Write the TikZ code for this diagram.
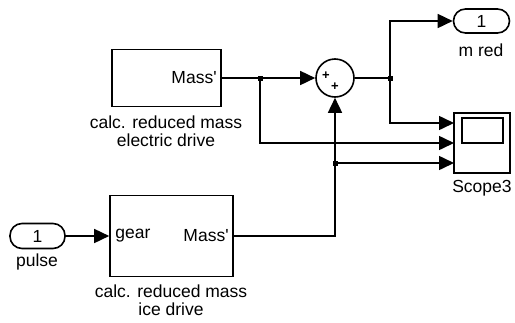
\documentclass[tikz,border=0pt]{standalone}
\usepackage{fontspec}
\setmainfont{Liberation Sans}
\usetikzlibrary{arrows.meta}

\tikzset{
  blk/.style={draw, line width=1.6pt, inner sep=0pt},
  port/.style={draw, line width=1.6pt, rounded corners=12pt, minimum width=55pt, minimum height=25pt, inner sep=0pt},
  sig/.style={line width=1.6pt, -{Triangle[length=15pt,width=14pt]}},
  wire/.style={line width=1.6pt},
  jdot/.style={fill, minimum size=5pt, inner sep=0pt},
  every node/.style={font=\fontsize{17.5}{18}\selectfont}
}

\begin{document}
\begin{tikzpicture}[x=1pt, y=-1pt]
      \useasboundingbox (0,0) rectangle (515,322);
      % Blocks
      \node[blk, minimum width=109pt, minimum height=57pt] (elec) at (166.5,78) {};
      \node[anchor=east, inner sep=0pt] (elecm) at ([xshift=-5pt]elec.east) {Mass\textquotesingle};
      \node[align=center, inner sep=0pt] (eleclbl) at (166,131) {calc. reduced mass\\electric drive};
      \node[blk, minimum width=123pt, minimum height=81pt] (ice) at (171.5,236) {};
      \node[anchor=west, inner sep=0pt] (iceg) at ([xshift=6pt]ice.west) {gear};
      \node[anchor=east, inner sep=0pt] (icem) at ([xshift=-5pt]ice.east) {Mass\textquotesingle};
      \node[align=center, inner sep=0pt] (icelbl) at (171,300) {calc. reduced mass\\ice drive};
      % Ports
      \node[port] (pulse) at (37.5,236) {1};
      \node[inner sep=0pt] (pulselbl) at (37,262) {pulse};
      \node[port, minimum width=56pt, minimum height=24pt] (out) at (481.5,21) {1};
      \node[inner sep=0pt] (outlbl) at (481,50) {m red};
      % Sum
      \node[circle, draw, line width=1.6pt, minimum size=38pt, inner sep=0pt] (sum) at (335,78) {};
      \node[font=\fontsize{13}{13}\selectfont\bfseries, inner sep=0pt] (p1) at (326,76) {+};
      \node[font=\fontsize{13}{13}\selectfont\bfseries, inner sep=0pt] (p2) at (335,87) {+};
      % Scope
      \node[blk, minimum width=56pt, minimum height=60pt] (scope) at (482,143) {};
      \node[blk, minimum width=41pt, minimum height=25pt] (screen) at (482.5,130.5) {};
      \node[inner sep=0pt] (scopelbl) at (482,188) {Scope3};
      \coordinate (s1) at (454,123);
      \coordinate (s2) at (454,143);
      \coordinate (s3) at (454,163);
      % Junctions
      \node[jdot] (j1) at (260,78) {};
      \node[jdot] (j2) at (390,78) {};
      \node[jdot] (j3) at (335,163) {};
      % Signals
      \draw[sig] (pulse) -- (ice.west);
      \draw[wire] (elec.east) -- (j1.center);
      \draw[sig] (j1.center) -- (sum.west);
      \draw[sig] (j1.center) |- (s2);
      \draw[wire] (sum.east) -- (j2.center);
      \draw[sig] (j2.center) |- (out.west);
      \draw[sig] (j2.center) |- (s1);
      \draw[sig] (ice.east) -| (sum.south);
      \draw[sig] (j3.center) -- (s3);
\end{tikzpicture}
\end{document}
